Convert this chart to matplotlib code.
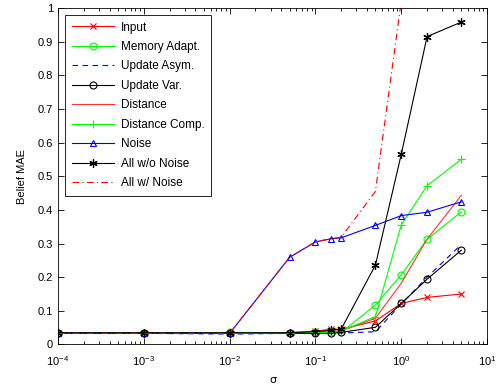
import matplotlib
matplotlib.use("Agg")
import matplotlib.pyplot as plt
import numpy as np

plt.rcParams['font.family'] = ['Liberation Sans', 'DejaVu Sans']
plt.rcParams['mathtext.fontset'] = 'custom'
plt.rcParams['mathtext.rm'] = 'Liberation Sans'

sigma = [1e-4, 1e-3, 1e-2, 0.05, 0.1, 0.15, 0.2, 0.5, 1, 2, 5]

input_ = [0.033, 0.033, 0.033, 0.035, 0.040, 0.045, 0.045, 0.070, 0.122, 0.140, 0.150]
memory_adapt = [0.033, 0.033, 0.036, 0.035, 0.036, 0.036, 0.036, 0.117, 0.207, 0.313, 0.394]
update_asym = [0.033, 0.033, 0.031, 0.033, 0.033, 0.033, 0.034, 0.038, 0.120, 0.200, 0.297]
update_var = [0.033, 0.033, 0.033, 0.033, 0.033, 0.033, 0.036, 0.051, 0.122, 0.194, 0.280]
distance = [0.033, 0.033, 0.033, 0.035, 0.038, 0.040, 0.040, 0.078, 0.182, 0.313, 0.443]
distance_comp = [0.033, 0.033, 0.035, 0.035, 0.036, 0.037, 0.040, 0.083, 0.355, 0.472, 0.550]
noise = [0.033, 0.033, 0.033, 0.259, 0.305, 0.314, 0.317, 0.354, 0.383, 0.393, 0.424]
all_wo_noise = [0.035, 0.035, 0.035, 0.035, 0.038, 0.042, 0.046, 0.236, 0.565, 0.915, 0.958]
all_w_noise = [0.033, 0.033, 0.033, 0.259, 0.305, 0.314, 0.319, 0.455, 1.02, 1.6, 2.2]

fig = plt.figure(figsize=(4.97, 3.90), dpi=100)
ax = fig.add_axes([0.1167, 0.1167, 0.8633, 0.8628])

lw = 0.8
ax.plot(sigma, input_, color='red', marker='x', ms=4, lw=lw, mew=0.8, label='Input')
ax.plot(sigma, memory_adapt, color='#00ff00', marker='o', ms=5, mfc='none', lw=lw, mew=0.8, label='Memory Adapt.')
ax.plot(sigma, update_asym, color='blue', ls=(0, (5, 4)), lw=lw, label='Update Asym.')
ax.plot(sigma, update_var, color='black', marker='o', ms=5, mfc='none', lw=lw, mew=0.8, label='Update Var.')
ax.plot(sigma, distance, color='#ff3333', lw=lw, label='Distance')
ax.plot(sigma, distance_comp, color='#00ff00', marker='+', ms=6, lw=lw, mew=0.8, label='Distance Comp.')
ax.plot(sigma, noise, color='blue', marker='^', ms=4.5, mfc='none', lw=lw, mew=0.8, label='Noise')
ax.plot(sigma, all_wo_noise, color='black', marker=(6, 2, 0), ms=6, lw=lw, mew=0.9, label='All w/o Noise')
ax.plot(sigma, all_w_noise, color='red', ls=(0, (6, 3, 1, 3)), lw=lw, label='All w/ Noise')

ax.set_xscale('log')
ax.set_xlim(1e-4, 10)
ax.set_ylim(0, 1)
ax.set_yticks(np.arange(0, 1.01, 0.1))
ax.set_yticklabels(['0', '0.1', '0.2', '0.3', '0.4', '0.5', '0.6', '0.7', '0.8', '0.9', '1'])
ax.tick_params(which='both', direction='in', top=True, right=True, labelsize=8, width=0.6)
ax.tick_params(which='major', length=4)
ax.tick_params(which='minor', length=2)
ax.tick_params(axis='x', which='major', pad=7)
for s in ax.spines.values():
    s.set_linewidth(0.6)

ax.set_xlabel('σ', fontsize=8, family=['DejaVu Sans'], labelpad=5)
ax.set_ylabel('Belief MAE', fontsize=8, labelpad=8)

leg = ax.legend(loc='upper left', fontsize=8.5, handlelength=3.6, labelspacing=0.63,
                borderaxespad=0.6, fancybox=False, edgecolor='black', framealpha=1,
                handletextpad=0.6, borderpad=0.55)
leg.get_frame().set_linewidth(0.6)

fig.savefig('out.png', dpi=100)
